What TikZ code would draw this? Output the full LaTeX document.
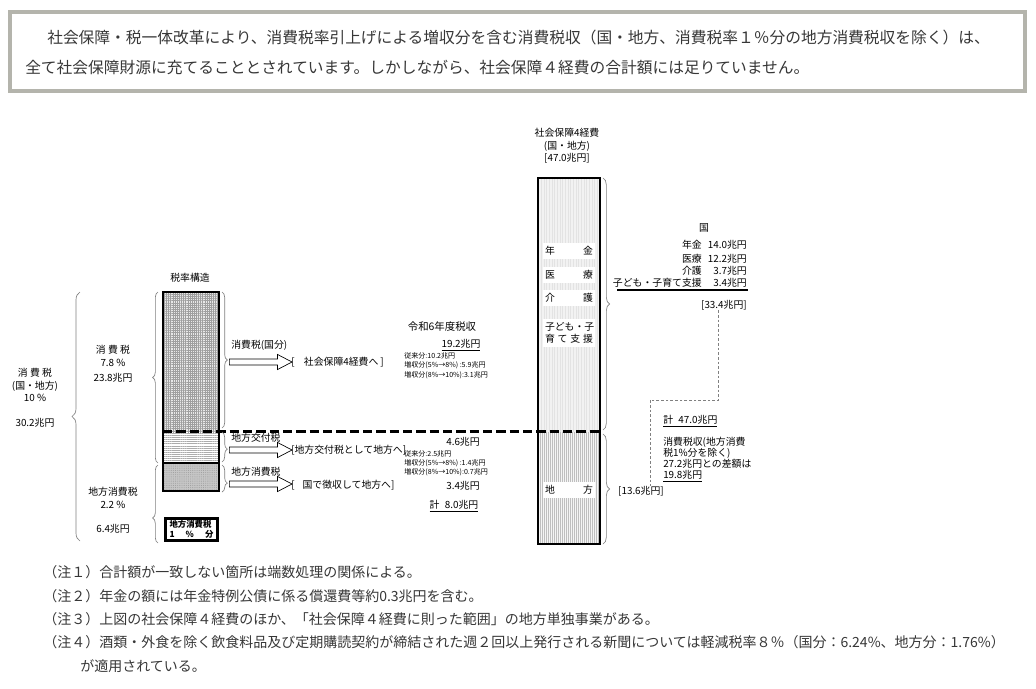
\documentclass[tikz,border=0pt]{standalone}
\usepackage{fontspec}
\setmainfont{Noto Sans CJK JP}
\usetikzlibrary{positioning}
\usetikzlibrary{patterns.meta}
\usetikzlibrary{decorations.pathreplacing}
\usetikzlibrary{shapes.arrows}

\definecolor{framegray}{RGB}{180,180,172}
\definecolor{txtgray}{RGB}{55,55,55}

\tikzset{
  head/.style={font=\fontsize{11.8}{14}\selectfont, text=txtgray, anchor=west, inner sep=0pt},
  note/.style={font=\fontsize{10.5}{12}\selectfont, text=txtgray, anchor=west, inner sep=0pt},
  lbl/.style={font=\fontsize{7.4}{9.4}\selectfont, inner sep=0pt, align=center},
  tiny/.style={font=\fontsize{5.3}{6}\selectfont, inner sep=0pt, anchor=west},
  colbox/.style={font=\fontsize{7.4}{9.4}\selectfont, fill=white, text width=36pt,
                 align=left, inner xsep=1.5pt, inner ysep=2.5pt},
  brc/.style={decorate, decoration={brace, amplitude=#1}, draw=gray, line width=0.5pt},
  brc/.default=4pt,
  flow/.style={single arrow, draw, line width=0.5pt, minimum height=47pt,
               single arrow head extend=3.4pt, single arrow tip angle=55,
               inner sep=2pt, anchor=west},
}

\begin{document}
\begin{tikzpicture}[x=0.75pt, y=-0.75pt]
\useasboundingbox[fill=white] (0,0) rectangle (1036,689);

% header box
\begin{scope}
  \draw[framegray, line width=3pt] (10,12) rectangle (1025,91);
  \node[head] (head1) at (47,38) {社会保障・税一体改革により、消費税率引上げによる増収分を含む消費税収（国・地方、消費税率１％分の地方消費税収を除く）は、};
  \node[head] (head2) at (25,67) {全て社会保障財源に充てることとされています。しかしながら、社会保障４経費の合計額には足りていません。};
\end{scope}

% tax rate column
\begin{scope}
  \fill[gray!18] (163,292) rectangle (219,432);
  \fill[pattern={Lines[angle=0,distance=1.6pt,line width=0.35pt]}, pattern color=gray!75] (163,292) rectangle (219,432);
  \fill[pattern={Lines[angle=90,distance=1.6pt,line width=0.35pt]}, pattern color=gray!75] (163,292) rectangle (219,432);
  \fill[pattern={Lines[angle=0,distance=1.6pt,line width=0.4pt]}, pattern color=gray!65] (163,432) rectangle (219,463);
  \fill[gray!45] (163,463) rectangle (219,491);
  \fill[pattern={Dots[distance=1.4pt,radius=0.3pt]}, pattern color=gray!85] (163,463) rectangle (219,491);
\end{scope}

% social security column
\begin{scope}
  \fill[gray!10] (538,178) rectangle (600,432);
  \fill[pattern={Lines[angle=90,distance=2pt,line width=0.4pt]}, pattern color=gray!22] (538,178) rectangle (600,432);
  \fill[gray!8] (538,432) rectangle (600,544);
  \fill[pattern={Lines[angle=90,distance=1.5pt,line width=0.45pt]}, pattern color=gray!50] (538,432) rectangle (600,544);
\end{scope}

\draw[line width=2.2pt, dash pattern=on 7pt off 3pt] (163,431.5) -- (600,431.5);

\begin{scope}[line width=2.2pt]
  \draw (163,292) rectangle (219,491);
  \draw (163,463) -- (219,463);
  \draw (538,178) rectangle (600,544);
\end{scope}

% labels on the columns
\begin{scope}
  \node[lbl] (rate) at (190,278) {税率構造};
  \node[draw, line width=1.8pt, font=\bfseries\fontsize{6.3}{7.2}\selectfont, text width=33pt,
        align=left, inner xsep=3pt, inner ysep=1.6pt] (onepct) at (191.5,529.5) {地方消費税\\1\hfill\%\hfill 分};

  \node[lbl] (sstitle) at (567,146) {社会保障4経費\\(国・地方)\\{}[47.0兆円]};
  \node[colbox] (pension) at (569,251) {年\hfill 金};
  \node[colbox] (medical) at (569,275) {医\hfill 療};
  \node[colbox] (care) at (569,298) {介\hfill 護};
  \node[colbox] (child) at (569,333) {子ども・子\\育\hfill て\hfill 支\hfill 援};
  \node[colbox] (local) at (569,490) {地\hfill 方};
\end{scope}

% left side
\begin{scope}
  \node[lbl] (allrate) at (35,385) {消 費 税\\(国・地方)\\10 \%};
  \node[lbl] (allamt) at (35,423) {30.2兆円};
  \node[lbl] (natrate) at (113,356) {消 費 税\\7.8 \%};
  \node[lbl] (natamt) at (113,378) {23.8兆円};
  \node[lbl] (locrate) at (113,498) {地方消費税\\2.2 \%};
  \node[lbl] (locamt) at (113,529) {6.4兆円};

  \draw[brc=6pt] (80,541) -- (80,292);
  \draw[brc] (158,463) -- (158,292);
  \draw[brc, decoration={aspect=0.32}] (158,543) -- (158,465);
  \draw[brc] (222,292) -- (222,428);
  \draw[brc, decoration={aspect=0.57}] (222,432) -- (222,462);
  \draw[brc, decoration={aspect=0.67}] (222,465) -- (222,492);
\end{scope}

% flows
\begin{scope}
  \node[flow] (arr1) at (229,362) {};
  \node[flow] (arr2) at (229,450) {};
  \node[flow] (arr3) at (229,484) {};

  \node[lbl, anchor=west] (natpart) at (231,345) {消費税(国分)};
  \node[lbl, anchor=west] (alloc) at (231,438) {地方交付税};
  \node[lbl, anchor=west] (loctax) at (231,472) {地方消費税};

  \node[lbl, anchor=west] (to4) at (291,362) {[\hspace{7pt}社会保障4経費へ\hspace{1.5pt}]};
  \node[lbl, anchor=west] (tolocal) at (291,450) {[地方交付税として地方へ]};
  \node[lbl, anchor=west] (collect) at (291,485) {[\hspace{6pt}国で徴収して地方へ]};
\end{scope}

% revenue figures
\begin{scope}
  \node[lbl, font=\fontsize{7.8}{9}\selectfont] (fy) at (442,327) {令和6年度税収};
  \node[lbl] (rev1) at (461,345) {\underline{19.2兆円}};
  \node[tiny] (r1a) at (404,356) {従来分:10.2兆円};
  \node[tiny] (r1b) at (404,365.5) {増収分(5\%→8\%) :5.9兆円};
  \node[tiny] (r1c) at (404,375) {増収分(8\%→10\%):3.1兆円};

  \node[lbl] (rev2) at (463,442) {4.6兆円};
  \node[tiny] (r2a) at (404,454) {従来分:2.5兆円};
  \node[tiny] (r2b) at (404,463) {増収分(5\%→8\%) :1.4兆円};
  \node[tiny] (r2c) at (404,472) {増収分(8\%→10\%):0.7兆円};
  \node[lbl] (rev3) at (463,486) {3.4兆円};
  \node[lbl] (revsum) at (454,506) {\underline{計\hspace{4pt}8.0兆円}};
\end{scope}

% right side
\begin{scope}
  \draw[brc=5pt] (603,178) -- (603,430);
  \draw[brc=5pt] (603,434) -- (603,544);

  \node[lbl] (kuni) at (704,228) {国};
  \foreach \item/\amt/\y in {年金/14.0/245, 医療/12.2/259, 介護/3.7/271, 子ども・子育て支援/3.4/283}{
    \node[lbl, anchor=east] (item\y) at (702,\y) {\item};
    \node[lbl, anchor=east] (amt\y) at (747,\y) {\amt 兆円};
  }
  \draw[line width=1.4pt] (617,290) -- (748,290);
  \node[lbl, anchor=east] (sum334) at (747,305) {[33.4兆円]};

  \node[lbl, anchor=west] (total) at (663,421) {\underline{計\hspace{4pt}47.0兆円}};
  \node[lbl, anchor=north west, align=left, font=\fontsize{7.4}{8.3}\selectfont] (gap) at (663,437)
       {消費税収(地方消費\\税1\%分を除く)\\27.2兆円との差額は\\\underline{19.8兆円}};
  \node[lbl] (sum136) at (641,491) {[13.6兆円]};

  \coordinate (bend) at (650,400);
  \draw[gray, line width=0.6pt, dash pattern=on 2pt off 1.5pt]
       ([xshift=-4pt]sum334.south) |- (bend) -- (bend |- sum136.north);
\end{scope}

% notes
\begin{scope}
  \node[note] (n1) at (43,572) {（注１）合計額が一致しない箇所は端数処理の関係による。};
  \node[note] (n2) at (43,596) {（注２）年金の額には年金特例公債に係る償還費等約0.3兆円を含む。};
  \node[note] (n3) at (43,619) {（注３）上図の社会保障４経費のほか、「社会保障４経費に則った範囲」の地方単独事業がある。};
  \node[note] (n4) at (43,642) {（注４）酒類・外食を除く飲食料品及び定期購読契約が締結された週２回以上発行される新聞については軽減税率８％（国分：6.24\%、地方分：1.76\%）};
  \node[note] (n5) at (80,666) {が適用されている。};
\end{scope}
\end{tikzpicture}
\end{document}
